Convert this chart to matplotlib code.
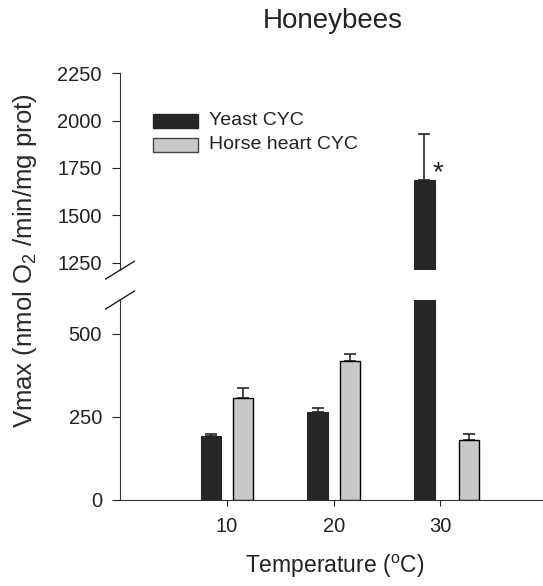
import numpy as np
import matplotlib
matplotlib.use('Agg')
import matplotlib.pyplot as plt

plt.rcParams['font.family'] = ['Liberation Sans', 'DejaVu Sans']
plt.rcParams['mathtext.fontset'] = 'custom'
plt.rcParams['mathtext.rm'] = 'Liberation Sans'
plt.rcParams['mathtext.it'] = 'Liberation Sans:italic'

# data
temps = [10, 20, 30]
yeast = [193, 265, 1685]
yeast_err = [6, 12, 245]
horse = [307, 419, 181]
horse_err = [30, 21, 18]
yticks_low = [0, 250, 500]
yticks_high = [1250, 1500, 1750, 2000, 2250]

dark = '#262626'
grey = '#c8c8c8'
width = 1.9
off_y = [-1.5, -1.5, -1.5]
off_h = [1.5, 1.5, 2.7]

fig = plt.figure(figsize=(5.43, 5.86), dpi=100)
axl = fig.add_axes([0.221, 0.147, 0.779, 0.341])
axh = fig.add_axes([0.221, 0.539, 0.779, 0.336])

xy = [t + o for t, o in zip(temps, off_y)]
xh = [t + o for t, o in zip(temps, off_h)]
for ax in (axl, axh):
    ax.bar(xy, yeast, width=width, color=dark, edgecolor=dark, linewidth=0.8, zorder=2)
    ax.bar(xh, horse, width=width, color=grey, edgecolor='black', linewidth=1.0, zorder=2)
    ax.errorbar(xy, yeast, yerr=[np.zeros(3), yeast_err], fmt='none', ecolor=dark,
                elinewidth=1.2, capsize=4, capthick=1.2, zorder=1)
    ax.errorbar(xh, horse, yerr=[np.zeros(3), horse_err], fmt='none', ecolor=dark,
                elinewidth=1.2, capsize=4, capthick=1.2, zorder=1)
    ax.set_xlim(0, 39.6)
    for s in ('top', 'right'):
        ax.spines[s].set_visible(False)
    ax.spines['left'].set_color('#333333')
    ax.tick_params(axis='y', direction='out', length=6, labelsize=14.5, pad=7, colors='#222222')

axl.set_ylim(0, 602)
axl.set_yticks(yticks_low)
axl.set_xticks(temps)
axl.tick_params(axis='x', direction='out', length=4, labelsize=14.5, pad=8, colors='#222222')
axl.spines['bottom'].set_color('#333333')

axh.set_ylim(1210, 2250)
axh.set_yticks(yticks_high)
axh.spines['bottom'].set_visible(False)
axh.set_xticks([])

# axis break marks
for ax, yy in ((axl, 1.0), (axh, 0.0)):
    kw = dict(transform=ax.transAxes, color='#222222', lw=1.0, clip_on=False)
    ax.plot([-0.034, 0.034], [yy - 0.045, yy + 0.045], **kw)

axh.text(29.8, 1720, '*', fontsize=20, ha='center', va='center', color='#222222')

# legend drawn by hand
lx = fig.add_axes([0, 0, 1, 1], facecolor='none')
lx.set_axis_off()
lx.set_xlim(0, 543)
lx.set_ylim(586, 0)
lx.add_patch(plt.Rectangle((153, 114), 45, 14, color=dark))
lx.add_patch(plt.Rectangle((153, 138), 45, 14, facecolor=grey, edgecolor='#444444', lw=1))
lx.text(209, 125, 'Yeast CYC', fontsize=14, va='baseline', ha='left', color='#222222')
lx.text(209, 149, 'Horse heart CYC', fontsize=14, va='baseline', ha='left', color='#222222')

fig.text(0.612, 0.952, 'Honeybees', fontsize=20, ha='center', va='baseline', color='#222222')
fig.text(0.616, 0.022, r'Temperature ($^{\mathrm{o}}$C)', fontsize=16.5, ha='center',
         va='baseline', color='#222222')
fig.text(0.046, 0.556, r'Vmax (nmol O$_2$ /min/mg prot)', fontsize=18.5, ha='center', va='center',
         rotation=90, color='#2a2a2a')

fig.savefig('out.png', dpi=100)
